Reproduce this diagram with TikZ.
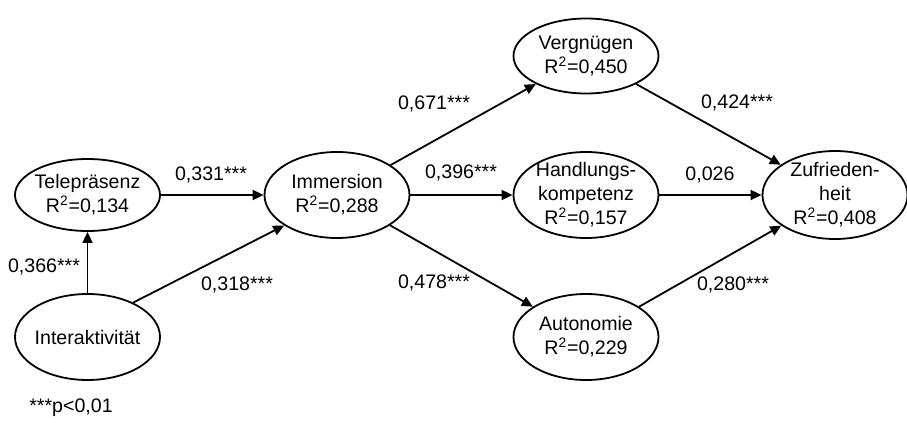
\documentclass[tikz,border=0pt]{standalone}
\usepackage{fontspec}
\setmainfont{Liberation Sans}
\usetikzlibrary{shapes.geometric,arrows.meta}

\tikzset{
  construct/.style={draw,ellipse,line width=0.9pt,minimum width=72.5pt,minimum height=43pt,
    inner sep=-3pt,align=center,font=\fontsize{9.8}{12}\selectfont},
  effect/.style={-{Triangle[length=5.5pt,width=5pt]},line width=0.9pt},
  coef/.style={inner sep=0pt,font=\fontsize{9.8}{12}\selectfont}
}

\begin{document}
\begin{tikzpicture}[x=0.5pt,y=-0.5pt]
    \useasboundingbox (0,0) rectangle (907,423);
    % Constructs
    \node[construct,minimum height=36pt] (tele) at (87.5,195) {Telepräsenz\\R\textsuperscript{2}=0,134};
    \node[construct] (imm) at (337,195) {Immersion\\R\textsuperscript{2}=0,288};
    \node[construct] (inter) at (87.5,337) {Interaktivität};
    \node[construct,minimum height=37.5pt] (verg) at (586,56) {Vergnügen\\R\textsuperscript{2}=0,450};
    \node[construct] (hand) at (586,195) {Handlungs-\\kompetenz\\R\textsuperscript{2}=0,157};
    \node[construct] (auto) at (586,337) {Autonomie\\R\textsuperscript{2}=0,229};
    \node[construct,minimum height=44pt] (zuf) at (835,195) {Zufrieden-\\heit\\R\textsuperscript{2}=0,408};
    % Paths
    \draw[effect] (tele) -- (imm);
    \draw[effect] (inter) -- (tele);
    \draw[effect] (inter.37) -- (imm.210);
    \draw[effect] (imm) -- (verg);
    \draw[effect] (imm) -- (hand);
    \draw[effect] (imm) -- (auto);
    \draw[effect] (verg) -- (zuf);
    \draw[effect] (hand) -- (zuf);
    \draw[effect] (auto) -- (zuf);
    % Coefficients
    \node[coef] (cTI) at (211,175) {0,331***};
    \node[coef] (cIT) at (44,267) {0,366***};
    \node[coef] (cII) at (237,285) {0,318***};
    \node[coef] (cIV) at (434,104) {0,671***};
    \node[coef] (cIH) at (461,173) {0,396***};
    \node[coef] (cIA) at (434,283) {0,478***};
    \node[coef] (cVZ) at (737,103) {0,424***};
    \node[coef] (cHZ) at (710,175) {0,026};
    \node[coef] (cAZ) at (733,285) {0,280***};
    \node[coef] (note) at (71,408) {***p<0,01};
\end{tikzpicture}
\end{document}
